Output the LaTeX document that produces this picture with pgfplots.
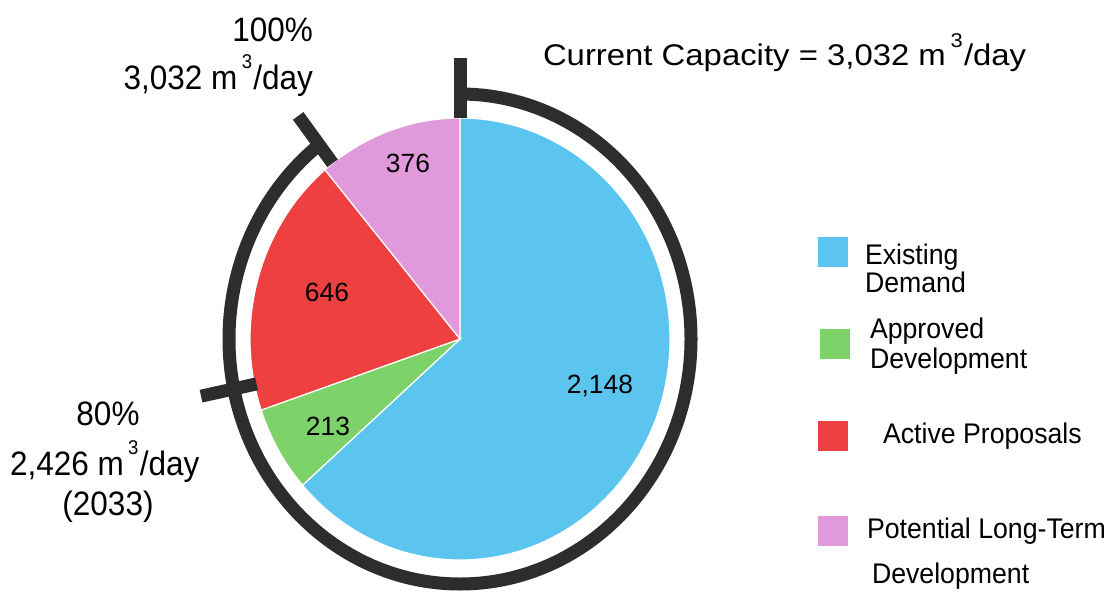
\documentclass[border=0pt]{standalone}
\usepackage{pgfplots}
\pgfplotsset{compat=1.18}
\usepackage{pgfplotstable}
\usepackage{graphicx}
\usepackage{fontspec}
\setmainfont{Liberation Sans}

\definecolor{cBlue}{RGB}{91,197,240}
\definecolor{cGreen}{RGB}{126,210,106}
\definecolor{cRed}{RGB}{238,64,64}
\definecolor{cPink}{RGB}{224,154,220}
\definecolor{cDark}{RGB}{45,45,45}

\pgfplotstableread{
value
2148
213
646
376
}\piedata
\pgfplotstablegetelem{0}{value}\of\piedata\let\vA\pgfplotsretval
\pgfplotstablegetelem{1}{value}\of\piedata\let\vB\pgfplotsretval
\pgfplotstablegetelem{2}{value}\of\piedata\let\vC\pgfplotsretval
\pgfplotstablegetelem{3}{value}\of\piedata\let\vD\pgfplotsretval
\pgfmathsetmacro\tot{\vA+\vB+\vC+\vD}
\pgfmathsetmacro\aA{90-360*(\vA/\tot)}
\pgfmathsetmacro\aB{\aA-360*(\vB/\tot)}
\pgfmathsetmacro\aC{\aB-360*(\vC/\tot)}
\pgfmathsetmacro\aD{\aC-360*(\vD/\tot)}
\pgfmathsetmacro\aFull{90-360*(3032/\tot)}
\pgfmathsetmacro\aEighty{90-360*(2426/\tot)}

\newcommand\pp[2]{(axis cs:{460+210*#1*cos(#2)},{339-221*#1*sin(#2)})}
\newcommand\fs[1]{\fontsize{#1}{#1}\selectfont}
\newcommand\sq{\hspace{0.14em}\raisebox{0.62em}{\fs{20}3}\hspace{0.04em}}
\newcommand\annot[1]{\scalebox{0.93}[1]{\fs{34}#1}}
\tikzset{lab/.style={inner sep=0pt, outer sep=0pt}}

\begin{document}
\begin{tikzpicture}
\begin{axis}[x=1bp, y=1bp, y dir=reverse,
  xmin=0, xmax=1109, ymin=0, ymax=592,
  hide axis, clip=false]
\path (axis cs:0,0) rectangle (axis cs:1109,592);
% wedges
\fill[cBlue, draw=white, line width=1.2bp] (axis cs:460,339) -- \pp{1}{90}
  arc[start angle=90, end angle=\aA, x radius=210bp, y radius=221bp] -- cycle;
\fill[cGreen, draw=white, line width=1.2bp] (axis cs:460,339) -- \pp{1}{\aA}
  arc[start angle=\aA, end angle=\aB, x radius=210bp, y radius=221bp] -- cycle;
\fill[cRed, draw=white, line width=1.2bp] (axis cs:460,339) -- \pp{1}{\aB}
  arc[start angle=\aB, end angle=\aC, x radius=210bp, y radius=221bp] -- cycle;
\fill[cPink, draw=white, line width=1.2bp] (axis cs:460,339) -- \pp{1}{\aC}
  arc[start angle=\aC, end angle=\aD, x radius=210bp, y radius=221bp] -- cycle;
% bracket arc and ticks
\draw[cDark, line width=13bp] (axis cs:460,94)
  arc[start angle=90, end angle=\aFull, x radius=231bp, y radius=245bp];
\draw[cDark, line width=13bp] \pp{1.0}{90} -- \pp{1.27}{90};
\draw[cDark, line width=13bp] \pp{1.0}{\aFull} -- \pp{1.27}{\aFull};
\draw[cDark, line width=13bp] \pp{0.99}{\aEighty} -- \pp{1.26}{\aEighty};
% slice labels
\node[lab, anchor=base] at (axis cs:600,393) {\fs{26.5}2,148};
\node[lab, anchor=base] at (axis cs:328,435) {\fs{26.5}213};
\node[lab, anchor=base] at (axis cs:327,302) {\fs{26.5}646};
\node[lab, anchor=base] at (axis cs:408,173) {\fs{26.5}376};
% annotations
\node[lab, anchor=base west] at (axis cs:543,66) {\scalebox{1.1}[1]{\fs{30}Current Capacity = 3,032 m\sq/day}};
\node[lab, anchor=base east] at (axis cs:313,42) {\annot{100\%}};
\node[lab, anchor=base east] at (axis cs:313,90) {\annot{3,032 m\sq/day}};
\node[lab, anchor=base] at (axis cs:108,425) {\annot{80\%}};
\node[lab, anchor=base west] at (axis cs:10,475) {\annot{2,426 m\sq/day}};
\node[lab, anchor=base] at (axis cs:108,515) {\annot{(2033)}};
% legend
\fill[cBlue] (axis cs:818,237) rectangle (axis cs:848,267);
\fill[cGreen] (axis cs:820,329) rectangle (axis cs:850,359);
\fill[cRed] (axis cs:818,421) rectangle (axis cs:848,451);
\fill[cPink] (axis cs:818,516) rectangle (axis cs:848,546);
\node[lab, anchor=base west] at (axis cs:865,265) {\scalebox{0.94}[1]{\fs{28.5}Existing}};
\node[lab, anchor=base west] at (axis cs:865,293) {\scalebox{0.94}[1]{\fs{28.5}Demand}};
\node[lab, anchor=base west] at (axis cs:870,338) {\scalebox{0.94}[1]{\fs{28.5}Approved}};
\node[lab, anchor=base west] at (axis cs:870,368) {\scalebox{0.94}[1]{\fs{28.5}Development}};
\node[lab, anchor=base west] at (axis cs:883,443) {\scalebox{0.94}[1]{\fs{28.5}Active Proposals}};
\node[lab, anchor=base west] at (axis cs:867,538) {\scalebox{0.94}[1]{\fs{28.5}Potential Long-Term}};
\node[lab, anchor=base west] at (axis cs:872,583) {\scalebox{0.94}[1]{\fs{28.5}Development}};
\end{axis}
\end{tikzpicture}
\end{document}
